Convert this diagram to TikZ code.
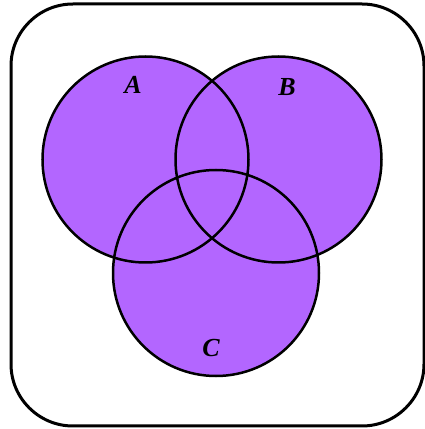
\documentclass[tikz,border=0pt]{standalone}
\usepackage{fontspec}
\setmainfont{Liberation Serif}
\usepackage{tikz}
\usetikzlibrary{calc}
\definecolor{setfill}{HTML}{B366FF}
\tikzset{every picture/.style={x=1pt,y=1pt}}
\tikzset{setarea/.style = {shape=circle,fill=setfill,minimum size=206pt,inner sep=0pt}}
\tikzset{setrim/.style = {line width=2.5pt}}
\tikzset{setname/.style = {font=\fontsize{26}{26}\selectfont\bfseries\itshape}}
\begin{document}
\begin{tikzpicture}
\useasboundingbox (0,0) rectangle (425,429);
\draw[line width=3pt,rounded corners=62pt] (11,3) rectangle (424,425);
% the three sets
\node[setarea] (cA) at (145.5,269.5) {};
\node[setarea] (cB) at (278.5,269.5) {};
\node[setarea] (cC) at (216,156) {};
\draw[setrim] (cA.center) circle[radius=103];
\draw[setrim] (cB.center) circle[radius=103];
\draw[setrim] (cC.center) circle[radius=103];
%
\node[setname] (lA) at (133,344) {A};
\node[setname] (lB) at (287,342) {B};
\node[setname] (lC) at (211,81) {C};
\end{tikzpicture}
\end{document}
